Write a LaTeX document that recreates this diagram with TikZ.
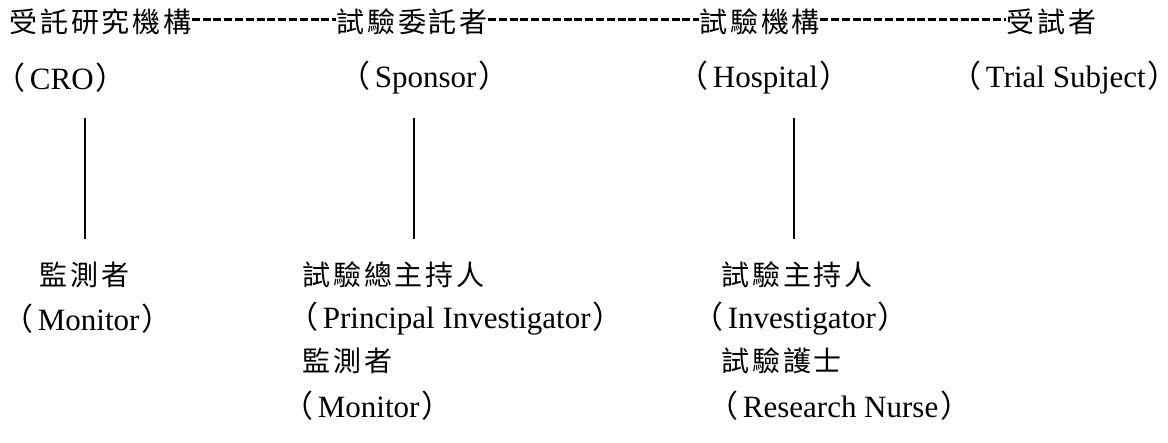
\documentclass[tikz,border=0pt]{standalone}
\usepackage{fontspec}
\setmainfont{Liberation Serif}
\newfontfamily\cjk[LetterSpace=10]{Noto Sans CJK TC}
\newfontfamily\cjkparen[CharacterWidth=AlternateHalf]{Noto Sans CJK TC}
\newcommand{\engname}[1]{{\cjkparen （}\kern2pt#1\kern1pt{\cjkparen ）}}
\tikzset{
  zh/.style={anchor=west, inner sep=0pt, font=\cjk\fontsize{14}{16}\selectfont},
  en/.style={anchor=west, inner sep=0pt, font=\fontsize{15.5}{17}\selectfont},
  link/.style={line width=1.5pt, dash pattern=on 4pt off 1.4pt},
  tie/.style={line width=1pt}
}

\begin{document}
\begin{tikzpicture}[x=0.5pt,y=-0.5pt]
  \useasboundingbox (0,0) rectangle (1168,443);
  % parties along the top
  \node[zh] (cro) at (9,22) {受託研究機構};
  \node[zh] (sponsor) at (336,22) {試驗委託者};
  \node[zh] (hospital) at (699,22) {試驗機構};
  \node[zh] (subject) at (1006,22) {受試者};
  \draw[link] ([yshift=1pt]cro.east) -- ([yshift=1pt]sponsor.west);
  \draw[link] ([yshift=1pt]sponsor.east) -- ([yshift=1pt]hospital.west);
  \draw[link] ([yshift=1pt]hospital.east) -- ([yshift=1pt]subject.west);
  \node[en] (croen) at (10,78) {\engname{CRO}};
  \node[en] (sponsoren) at (355,78) {\engname{Sponsor}};
  \node[en] (hospitalen) at (693,78) {\engname{Hospital}};
  \node[en] (subjecten) at (966,78) {\engname{Trial Subject}};
  % vertical ties
  \coordinate (croA) at (84.5,118);
  \coordinate (croB) at (84.5,239);
  \coordinate (sponsorA) at (414,118);
  \coordinate (sponsorB) at (414,239);
  \coordinate (hospitalA) at (794,118);
  \coordinate (hospitalB) at (794,239);
  \draw[tie] (croA) -- (croB);
  \draw[tie] (sponsorA) -- (sponsorB);
  \draw[tie] (hospitalA) -- (hospitalB);
  % staff of each party
  \node[zh] (monA) at (39,275) {監測者};
  \node[en] (monAen) at (18,319) {\engname{Monitor}};
  \node[zh] (pi) at (302,275) {試驗總主持人};
  \node[en] (pien) at (303,319) {\engname{Principal Investigator}};
  \node[zh] (monB) at (302,361) {監測者};
  \node[en] (monBen) at (298,406) {\engname{Monitor}};
  \node[zh] (inv) at (721,275) {試驗主持人};
  \node[en] (inven) at (708,319) {\engname{Investigator}};
  \node[zh] (nurse) at (721,361) {試驗護士};
  \node[en] (nurseen) at (723,406) {\engname{Research Nurse}};
\end{tikzpicture}
\end{document}
